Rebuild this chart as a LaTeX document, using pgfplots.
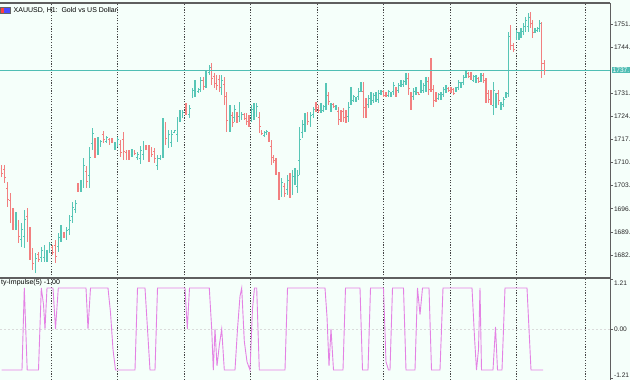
\documentclass[border=0pt]{standalone}
\usepackage{pgfplots}
\pgfplotsset{compat=1.18}
\usepackage{pgfplotstable}
\usepackage{fontspec}
\setmainfont{Liberation Sans}
\definecolor{bg}{RGB}{245,255,250}
\definecolor{upc}{RGB}{88,198,182}
\definecolor{dnc}{RGB}{242,128,128}
\definecolor{pline}{RGB}{80,190,180}
\definecolor{ind}{RGB}{228,130,228}
\definecolor{gridc}{RGB}{70,70,70}
\definecolor{framec}{RGB}{95,95,95}

\pgfdeclareplotmark{otick}{\pgfpathmoveto{\pgfqpoint{-\pgfplotmarksize}{0pt}}\pgfpathlineto{\pgfpointorigin}\pgfusepathqstroke}
\pgfdeclareplotmark{ctick}{\pgfpathmoveto{\pgfpointorigin}\pgfpathlineto{\pgfqpoint{\pgfplotmarksize}{0pt}}\pgfusepathqstroke}

% up (bullish) bars: x high low open close
\pgfplotstableread{
x h l o c
15.9 1695.3 1689.9 1691.5 1694.0
21.5 1692.0 1684.8 1687.0 1690.2
24.3 1695.9 1684.5 1687.9 1693.0
35.7 1683.0 1677.0 1678.8 1681.5
41.3 1684.8 1680.3 1681.6 1683.7
44.2 1685.4 1680.3 1681.8 1684.1
47.0 1683.9 1680.3 1681.4 1683.0
49.8 1686.3 1683.0 1684.0 1685.5
58.3 1689.0 1683.3 1685.0 1687.6
61.1 1691.4 1686.3 1687.8 1690.1
66.8 1690.8 1686.9 1688.0 1689.8
69.6 1694.4 1688.4 1690.2 1692.9
72.5 1698.3 1692.0 1693.9 1696.7
75.3 1698.9 1695.0 1696.2 1697.9
80.9 1704.9 1701.3 1702.4 1704.0
83.8 1711.5 1702.5 1705.2 1709.3
89.4 1714.8 1702.5 1706.2 1711.7
92.3 1720.5 1713.9 1715.9 1718.9
97.9 1717.8 1712.4 1714.0 1716.5
100.8 1716.9 1714.8 1715.4 1716.4
106.4 1718.1 1716.0 1716.6 1717.6
114.9 1716.3 1713.9 1714.6 1715.7
117.7 1717.8 1714.8 1715.7 1717.0
131.9 1714.2 1711.8 1712.5 1713.6
137.5 1713.3 1710.9 1711.6 1712.7
140.4 1715.1 1709.7 1711.3 1713.8
143.2 1716.6 1710.9 1712.6 1715.2
157.3 1712.4 1707.9 1709.2 1711.3
160.2 1712.4 1710.9 1711.3 1712.0
163.0 1723.5 1711.5 1715.1 1720.5
168.7 1719.9 1714.5 1716.1 1718.5
171.5 1719.9 1714.8 1716.3 1718.6
174.3 1719.9 1719.0 1719.3 1719.7
177.2 1723.8 1716.3 1718.5 1721.9
180.0 1725.9 1722.3 1723.4 1725.0
182.8 1725.9 1723.5 1724.2 1725.3
189.3 1727.4 1723.5 1724.7 1726.4
192.7 1732.5 1729.5 1730.4 1731.8
195.0 1734.9 1729.8 1731.3 1733.6
198.3 1732.5 1731.0 1731.5 1732.1
200.7 1735.8 1731.3 1732.6 1734.7
206.0 1737.9 1732.5 1734.1 1736.6
209.3 1739.4 1736.4 1737.3 1738.7
221.7 1736.4 1730.4 1732.2 1734.9
230.0 1727.4 1719.3 1721.7 1725.4
234.6 1727.4 1722.3 1723.8 1726.1
239.2 1728.3 1722.3 1724.1 1726.8
241.7 1725.3 1722.9 1723.6 1724.7
251.7 1727.4 1722.3 1723.8 1726.1
254.0 1728.0 1722.9 1724.4 1726.7
256.7 1728.0 1723.8 1725.1 1727.0
264.3 1719.6 1717.8 1718.3 1719.1
266.7 1719.9 1718.4 1718.9 1719.5
281.7 1705.5 1699.8 1701.5 1704.1
287.3 1706.4 1700.4 1702.2 1704.9
292.7 1707.9 1700.4 1702.7 1706.0
295.0 1708.5 1703.4 1704.9 1707.2
297.3 1707.9 1701.0 1703.1 1706.2
299.6 1720.8 1706.4 1710.7 1717.2
302.3 1722.9 1717.5 1719.1 1721.6
305.0 1725.0 1719.3 1721.0 1723.6
310.7 1725.3 1720.8 1722.2 1724.2
313.3 1726.8 1723.5 1724.5 1726.0
321.0 1728.0 1725.0 1725.9 1727.3
323.5 1727.4 1725.3 1725.9 1726.9
326.0 1734.0 1725.9 1728.3 1732.0
331.0 1728.0 1725.3 1726.1 1727.3
336.0 1727.4 1725.9 1726.4 1727.0
348.5 1728.3 1722.3 1724.1 1726.8
351.0 1732.8 1727.4 1729.0 1731.5
353.5 1730.4 1728.3 1728.9 1729.9
356.0 1729.8 1728.3 1728.8 1729.4
358.5 1732.5 1728.9 1730.0 1731.6
361.0 1734.3 1731.3 1732.2 1733.5
368.5 1730.4 1726.5 1727.7 1729.4
371.0 1731.3 1727.4 1728.6 1730.3
373.5 1731.0 1728.0 1728.9 1730.3
376.0 1731.3 1728.3 1729.2 1730.5
378.5 1731.9 1728.0 1729.2 1730.9
381.0 1731.9 1730.4 1730.9 1731.5
388.5 1731.9 1729.8 1730.4 1731.4
391.0 1731.3 1729.8 1730.3 1730.9
393.5 1734.3 1730.4 1731.6 1733.3
398.5 1734.0 1731.0 1731.9 1733.2
401.0 1734.9 1732.8 1733.4 1734.4
403.5 1734.9 1732.8 1733.5 1734.5
406.0 1737.0 1733.4 1734.5 1736.1
413.5 1732.5 1728.9 1730.0 1731.6
416.0 1732.8 1730.4 1731.1 1732.2
421.0 1734.9 1731.0 1732.2 1733.9
423.5 1734.0 1731.0 1731.9 1733.2
426.0 1735.8 1731.3 1732.6 1734.7
438.5 1731.0 1728.9 1729.5 1730.5
441.0 1731.3 1728.9 1729.6 1730.7
443.5 1732.8 1729.8 1730.7 1732.1
446.0 1733.4 1731.0 1731.7 1732.8
456.0 1732.8 1731.3 1731.7 1732.4
458.5 1734.9 1731.9 1732.8 1734.2
461.0 1734.3 1732.5 1733.0 1733.8
463.5 1736.4 1733.4 1734.3 1735.7
466.0 1737.6 1735.5 1736.1 1737.1
473.5 1736.4 1734.3 1734.9 1735.9
476.0 1736.4 1734.0 1734.7 1735.8
481.0 1737.0 1734.3 1735.1 1736.3
493.5 1734.3 1724.4 1727.4 1731.8
496.0 1731.0 1726.5 1727.8 1729.9
501.0 1728.3 1725.9 1726.6 1727.7
503.5 1729.8 1726.8 1727.7 1729.1
506.0 1731.3 1729.5 1730.0 1730.9
508.3 1749.3 1729.8 1731.0 1748.0
516.7 1749.9 1746.9 1747.8 1749.2
519.0 1749.3 1746.9 1747.6 1748.7
521.0 1750.5 1747.5 1748.4 1749.8
523.3 1752.0 1748.4 1749.5 1751.1
525.7 1753.8 1749.3 1750.6 1752.7
528.3 1755.0 1749.3 1751.0 1753.6
535.0 1750.5 1749.0 1749.5 1750.1
537.3 1750.8 1749.3 1749.8 1750.4
539.7 1752.9 1749.3 1750.4 1752.0
}\upbars

% down (bearish) bars: x high low open close
\pgfplotstableread{
x h l o c
1.7 1709.4 1705.8 1708.5 1706.9
4.5 1709.4 1704.0 1708.0 1705.6
7.4 1704.3 1696.8 1702.4 1699.0
10.2 1701.0 1692.0 1698.8 1694.7
13.0 1696.5 1689.9 1694.9 1691.9
18.7 1692.9 1686.0 1691.2 1688.1
27.2 1696.5 1686.3 1694.0 1689.4
30.0 1690.8 1680.9 1688.3 1683.9
32.8 1684.5 1677.9 1682.9 1679.9
38.5 1683.3 1680.3 1682.5 1681.2
52.6 1685.4 1682.4 1684.6 1683.3
55.5 1686.9 1680.0 1685.2 1682.1
64.0 1689.3 1687.5 1688.9 1688.0
78.1 1704.0 1701.3 1703.3 1702.1
86.6 1709.1 1702.5 1707.4 1704.5
95.1 1717.5 1711.5 1716.0 1713.3
103.6 1719.6 1716.0 1718.7 1717.1
109.2 1717.5 1715.4 1717.0 1716.0
112.1 1717.5 1716.0 1717.1 1716.5
120.6 1716.9 1711.8 1715.6 1713.3
123.4 1719.3 1710.9 1717.2 1713.4
126.2 1713.9 1710.9 1713.1 1711.8
129.0 1713.9 1710.9 1713.3 1711.6
134.7 1713.9 1712.4 1713.5 1712.8
146.0 1715.4 1713.9 1715.0 1714.4
148.9 1715.4 1710.3 1714.1 1711.8
151.7 1714.8 1711.8 1714.0 1712.7
154.5 1714.5 1710.0 1713.4 1711.3
165.8 1722.3 1715.4 1720.6 1717.5
186.0 1728.0 1724.4 1727.1 1725.5
203.3 1735.8 1731.9 1734.8 1733.1
211.7 1740.0 1733.4 1738.4 1735.4
214.3 1737.0 1732.5 1735.9 1733.9
216.7 1736.4 1731.9 1735.3 1733.3
219.3 1736.4 1731.3 1735.1 1732.8
224.3 1735.8 1727.4 1733.7 1729.9
226.7 1731.3 1719.3 1728.3 1722.9
232.3 1725.3 1720.8 1724.2 1722.2
236.9 1725.3 1722.0 1724.5 1723.0
244.3 1725.0 1722.9 1724.5 1723.5
246.7 1725.0 1721.4 1724.1 1722.5
249.0 1724.4 1720.8 1723.5 1721.9
259.3 1725.3 1719.0 1723.7 1720.9
261.7 1719.9 1718.4 1719.5 1718.9
269.0 1719.3 1716.3 1718.6 1717.2
271.3 1716.9 1709.4 1715.0 1711.6
273.6 1712.4 1710.0 1711.8 1710.7
276.0 1711.5 1706.4 1710.2 1707.9
279.0 1707.3 1698.9 1705.2 1701.4
284.3 1704.0 1699.8 1703.0 1701.0
290.0 1707.0 1699.5 1705.1 1701.7
307.7 1725.3 1721.4 1724.3 1722.6
316.0 1728.3 1725.3 1727.5 1726.2
318.5 1727.4 1725.0 1726.8 1725.7
328.5 1731.3 1727.4 1730.3 1728.6
333.5 1728.0 1726.5 1727.6 1727.0
338.5 1726.8 1721.4 1725.4 1723.0
341.0 1725.9 1722.3 1725.0 1723.4
343.5 1726.5 1722.3 1725.4 1723.6
346.0 1725.9 1722.0 1724.9 1723.2
363.5 1734.3 1723.5 1731.6 1726.7
366.0 1729.5 1723.5 1728.0 1725.3
383.5 1731.9 1729.8 1731.4 1730.4
386.0 1731.3 1729.8 1730.9 1730.3
396.0 1732.8 1729.8 1732.0 1730.7
408.5 1737.0 1730.4 1735.4 1732.4
411.0 1731.3 1725.9 1729.9 1727.5
418.5 1731.3 1730.4 1731.1 1730.7
428.5 1735.8 1730.4 1734.5 1732.0
431.0 1741.5 1731.3 1734.3 1733.1
433.5 1733.4 1726.8 1732.2 1728.9
436.0 1731.3 1728.3 1730.6 1729.2
448.5 1732.8 1731.3 1732.4 1731.8
451.0 1732.8 1731.0 1732.3 1731.5
453.5 1732.5 1730.4 1732.0 1731.0
468.5 1737.3 1735.5 1736.9 1736.0
471.0 1737.3 1734.9 1736.7 1735.6
478.5 1735.8 1734.0 1735.4 1734.5
483.5 1737.0 1734.0 1736.3 1734.9
486.0 1735.5 1728.0 1733.6 1730.3
488.5 1731.9 1728.0 1731.0 1729.2
491.0 1731.9 1727.4 1730.8 1728.8
498.5 1731.9 1727.4 1730.8 1728.8
510.7 1751.4 1743.9 1749.5 1745.2
513.3 1746.0 1743.3 1745.4 1744.0
530.7 1755.3 1750.5 1754.1 1752.0
532.7 1752.9 1747.5 1751.5 1749.1
541.7 1752.3 1735.5 1751.4 1740.0
544.3 1740.9 1736.4 1740.0 1737.9
}\dnbars

\begin{document}
\begin{tikzpicture}
\fill[bg] (0pt,0pt) rectangle (630pt,380pt);
% small symbol icon
\fill[red!75!white] (0pt,367pt) rectangle (4pt,373pt);
\fill[blue!70!white] (4pt,367pt) rectangle (10pt,373pt);
\draw[black!60, line width=0.4pt] (0pt,367pt) rectangle (10pt,373pt);

\begin{axis}[
  at={(0pt,377pt)}, anchor=north west,
  width=610pt, height=275pt, scale only axis,
  xmin=0, xmax=610, ymin=1675.5, ymax=1758.0,
  clip=false,
  axis line style={draw=none},
  xtick={51,117,184,250,317,383,450,516.5,585},
  xticklabels={},
  xtick style={draw=none},
  xmajorgrids,
  grid style={gridc, line width=0.65pt, dash pattern=on 1.2pt off 1.5pt},
  ytick={1682.40,1689.33,1696.26,1703.19,1710.12,1717.05,1723.98,1730.91,1744.77,1751.70},
  yticklabels={1682.,1689.,1696.,1703.,1710.,1717.,1724.,1731.,1744.,1751.},
  ytick pos=right, yticklabel pos=right,
  tick align=outside, major tick length=3pt,
  ytick style={framec, line width=0.6pt},
  yticklabel style={font=\fontsize{6.6}{8}\selectfont, text=black!85, inner sep=0.8pt},
]
\addplot[upc, only marks, mark=otick, mark size=1.2pt, mark options={line width=0.8pt},
  error bars/.cd, y dir=both, y explicit, error mark=none, error bar style={upc, line width=1.25pt}]
  table[x=x, y=o, y error plus expr=\thisrow{h}-\thisrow{o}, y error minus expr=\thisrow{o}-\thisrow{l}] {\upbars};
\addplot[upc, only marks, mark=ctick, mark size=1.2pt, mark options={line width=0.8pt}]
  table[x=x, y=c] {\upbars};
\addplot[dnc, only marks, mark=otick, mark size=1.2pt, mark options={line width=0.8pt},
  error bars/.cd, y dir=both, y explicit, error mark=none, error bar style={dnc, line width=1.25pt}]
  table[x=x, y=o, y error plus expr=\thisrow{h}-\thisrow{o}, y error minus expr=\thisrow{o}-\thisrow{l}] {\dnbars};
\addplot[dnc, only marks, mark=ctick, mark size=1.2pt, mark options={line width=0.8pt}]
  table[x=x, y=c] {\dnbars};
\addplot[pline, line width=0.9pt, mark=none] coordinates {(0,1737.9) (610,1737.9)};
\node[fill=pline, text=white, anchor=west, inner sep=1pt, font=\fontsize{6.6}{8}\selectfont] at (axis cs:611.5,1737.9) {1737.};
\node[anchor=west, inner sep=0pt, font=\fontsize{7}{8}\selectfont] at (axis cs:13.5,1755.9) {XAUUSD, H1:\ \ Gold vs US Dollar};
\draw[framec, line width=1.3pt] (rel axis cs:0,1) -- (rel axis cs:1,1);
\draw[framec, line width=1pt] (rel axis cs:1,1) -- (rel axis cs:1,0);
\draw[framec, line width=1.6pt] (rel axis cs:0,0) -- (rel axis cs:1,0);
\end{axis}

\begin{axis}[
  at={(0pt,102pt)}, anchor=north west,
  width=610pt, height=102pt, scale only axis,
  xmin=0, xmax=610, ymin=-1.244, ymax=1.244,
  clip=false,
  axis line style={draw=none},
  xtick={51,117,184,250,317,383,450,516.5,585},
  xticklabels={},
  xtick style={draw=none},
  xmajorgrids,
  grid style={gridc, line width=0.65pt, dash pattern=on 1.2pt off 1.5pt},
  ytick={0}, yticklabels={0.00},
  ytick pos=right, yticklabel pos=right,
  tick align=outside, major tick length=3pt,
  ytick style={framec, line width=0.6pt},
  yticklabel style={font=\fontsize{6.6}{8}\selectfont, text=black!85, inner sep=0.8pt},
]
\addplot[black!14, line width=0.5pt, dash pattern=on 2pt off 2pt, mark=none] coordinates {(0,0) (610,0)};
\addplot[ind, line width=0.9pt, mark=none] coordinates {
(1.7,-1) (22,-1) (24.3,1) (27.2,-1) (38.5,-1) (41.3,1) (43.5,0.6) (45,0) (47,1) (53,1) (55.5,0) (58.3,1)
(86,1) (88,0) (90.5,1) (108,1) (110.5,0.4) (113,-0.5) (115.5,-1) (135,-1) (137.5,1) (145,1) (147.5,0) (150,-1)
(155,-1) (157.5,1) (185,1) (187.3,0) (189.5,1) (209.3,1) (211.7,0) (213.3,-1) (215,0) (217,-0.9) (219.3,-0.4)
(221.7,0) (224.3,-1) (235,-1) (237.5,0) (240,0.8) (241.7,1) (244.3,-0.3) (247,-0.8) (250,-1) (252.5,0.5)
(254.5,1) (256.7,1) (259.3,-1) (285,-1) (287.5,1) (325,1) (327,0.3) (329,-0.9) (331,0) (333.5,-1) (343,-1)
(345.5,1) (360,1) (362.5,-1) (368,-1) (370.5,1) (383.5,1) (386,-0.8) (388.5,-1) (390,-1) (392.5,1) (403.5,1)
(406,-1) (415,-1) (417.5,1) (420,0.35) (422.5,1) (429,1) (431.5,-1) (440,-1) (443,1) (472,1) (474.5,-0.2)
(476.5,-1) (478.5,-0.5) (480,1) (481.5,-1) (493,-1) (495.5,0.05) (497.5,-1) (502,-1) (505,1) (527,1) (529,0)
(531,-1) (543,-1)
};
\node[anchor=north west, inner sep=1pt, font=\fontsize{7}{8}\selectfont] at (rel axis cs:0,1) {ty-Impulse(5) -1.00};
\draw[framec, line width=0.6pt] (axis cs:610,1.21) -- ++(3pt,0pt) node[anchor=north west, inner sep=0.8pt, font=\fontsize{6.6}{8}\selectfont, text=black!85] {1.21};
\draw[framec, line width=0.6pt] (axis cs:610,-1.21) -- ++(3pt,0pt) node[anchor=south west, inner sep=0.8pt, font=\fontsize{6.6}{8}\selectfont, text=black!85] {-1.21};
\draw[framec, line width=1pt] (rel axis cs:1,1) -- (rel axis cs:1,0);
\end{axis}
\pgfresetboundingbox
\useasboundingbox (0pt,0pt) rectangle (630pt,380pt);
\end{tikzpicture}
\end{document}
